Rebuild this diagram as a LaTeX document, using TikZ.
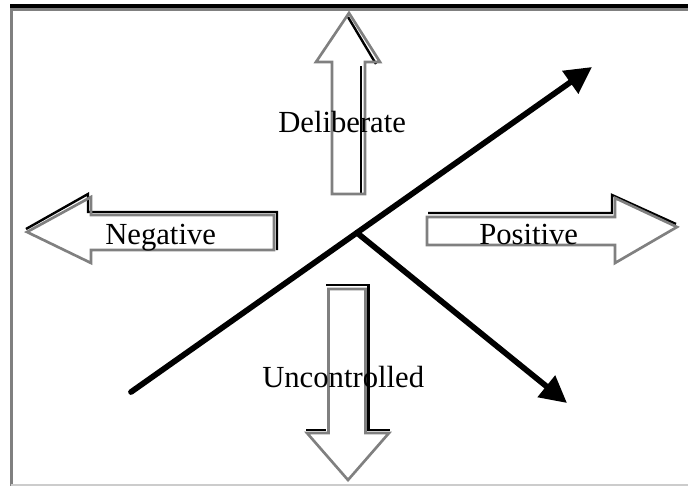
\documentclass[tikz,border=0pt]{standalone}
\usepackage{fontspec}
\setmainfont{Liberation Serif}
\usetikzlibrary{arrows.meta,calc}
\definecolor{outline}{gray}{0.5}
\definecolor{rim}{gray}{0.8}

\begin{document}
\begin{tikzpicture}[x=0.75pt, y=-0.75pt,
    word/.style={font=\fontsize{23}{27}\selectfont, anchor=base west, inner sep=0pt},
    blockedge/.style={draw=outline, line width=2pt, line join=miter},
    blockshade/.style={draw=black, line width=1.8pt},
    axisline/.style={line width=4.3pt, line cap=round, -{Triangle[length=20pt, width=20pt]}}]
    \useasboundingbox (0,0) rectangle (688,486);

    % Frame
    \draw[line width=3pt] (10,5.5) -- (688,5.5);
    \draw[outline, line width=2.2pt] (10,9.5) -- (688,9.5);
    \draw[outline, line width=2.2pt] (11.5,8) -- (11.5,486);
    \draw[rim, line width=1.2pt] (11,485) -- (688,485);

    % Up arrow (deliberate)
    \draw[blockshade] (348,17) -- (376,64);
    \draw[blockshade] (361,66) -- (361,194);
    \draw[blockedge] (349,13) -- (380,62) -- (365,62) -- (365,194)
        -- (332,194) -- (332,62) -- (316,62) -- cycle;

    % Left arrow (negative)
    \draw[blockshade] (26,229) -- (88,194) -- (88,212) -- (277,212) -- (277,250);
    \draw[blockedge] (27,232) -- (91,197) -- (91,215) -- (274,215)
        -- (274,250) -- (91,250) -- (91,263) -- cycle;

    % Right arrow (positive)
    \draw[blockshade] (428,213) -- (612,213) -- (612,195) -- (676,224);
    \draw[blockedge] (427,217) -- (615,217) -- (615,198) -- (677,227)
        -- (615,263) -- (615,245) -- (427,245) -- cycle;

    % Down arrow (uncontrolled)
    \draw[blockshade] (326,285) -- (368.5,285) -- (368.5,430) -- (390,430);
    \draw[blockshade] (306,430) -- (326,430);
    \draw[blockedge] (328.5,289) -- (365.5,289) -- (365.5,433) -- (389,433)
        -- (348,480) -- (307,433) -- (328.5,433) -- cycle;

    % Labels
    \node[word] (deliberate) at (278,132) {Deliberate};
    \node[word] (negative) at (105,244) {Negative};
    \node[word] (positive) at (479,244) {Positive};
    \node[word] (uncontrolled) at (262,387) {Uncontrolled};

    % Crossing lines
    \coordinate (low) at (131,392);
    \coordinate (high) at (592,67);
    \coordinate (fork) at ($(low)!0.49!(high)$);
    \coordinate (drop) at (567,403);
    \draw[axisline] (low) -- (high);
    \draw[axisline] (fork) -- (drop);
\end{tikzpicture}
\end{document}
